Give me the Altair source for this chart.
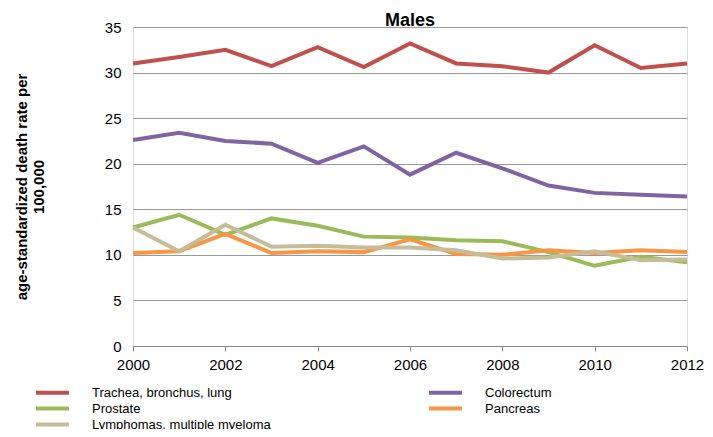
import altair as alt
import pandas as pd

years = list(range(2000, 2013))
trachea = [31, 31.7, 32.5, 30.7, 32.8, 30.6, 33.2, 31, 30.7, 30, 33, 30.5, 31]
colorectum = [22.6, 23.4, 22.5, 22.2, 20.1, 21.9, 18.8, 21.2, 19.5, 17.6, 16.8, 16.6, 16.4]
prostate = [13, 14.4, 12.2, 14, 13.2, 12, 11.9, 11.6, 11.5, 10.3, 8.8, 9.8, 9.2]
pancreas = [10.2, 10.4, 12.3, 10.2, 10.4, 10.3, 11.7, 10.1, 10, 10.5, 10.2, 10.5, 10.3]
lymph = [13, 10.4, 13.3, 10.9, 11, 10.8, 10.8, 10.5, 9.6, 9.7, 10.4, 9.4, 9.5]

names = ["Trachea, bronchus, lung", "Colorectum", "Prostate", "Pancreas", "Lymphomas, multiple myeloma"]
colors = ["#C0504D", "#8064A2", "#9BBB59", "#F79646", "#C4BD97"]
series = [trachea, colorectum, prostate, pancreas, lymph]
# legend fills column by column
legend_order = [names[0], names[2], names[4], names[1], names[3]]

rows = []
for n, s in zip(names, series):
    for y, v in zip(years, s):
        rows.append({"year": y, "value": v, "series": n})
df = pd.DataFrame(rows)

chart = alt.Chart(df).mark_line(strokeWidth=4).encode(
    x=alt.X("year:Q", scale=alt.Scale(domain=[2000, 2012], nice=False),
            axis=alt.Axis(values=list(range(2000, 2013, 2)), format="d", title=None, grid=False,
                          labelFontSize=15, labelColor="black", tickColor="#888", domainColor="#888",
                          labelPadding=6, labelFlush=False)),
    y=alt.Y("value:Q", scale=alt.Scale(domain=[0, 35]),
            axis=alt.Axis(values=list(range(0, 36, 5)), title=["age-standardized death rate per", "100,000"],
                          titleFontSize=15, titleFontWeight="bold", labelFontSize=15, labelColor="black",
                          gridColor="#999", domain=False, ticks=False, titlePadding=58, labelPadding=12)),
    color=alt.Color("series:N", sort=legend_order, scale=alt.Scale(domain=legend_order,
                    range=[colors[0], colors[2], colors[4], colors[1], colors[3]]),
                    legend=alt.Legend(orient="none", legendX=-88, legendY=358, columns=2, title=None,
                                      symbolType="M-3,0H3", symbolStrokeWidth=4, symbolSize=121,
                                      labelFontSize=13, columnPadding=150, rowPadding=-3,
                                      labelLimit=300, labelOffset=32)),
).properties(
    width=554, height=319,
    title=alt.TitleParams("Males", fontSize=18, fontWeight="bold", offset=-10),
    autosize="none",
    padding={"left": 125, "top": 19, "right": 18, "bottom": 83},
).configure_view(stroke=None).configure(font="Liberation Sans")

chart.save("out.html", embed_options={"renderer": "svg", "actions": False})
